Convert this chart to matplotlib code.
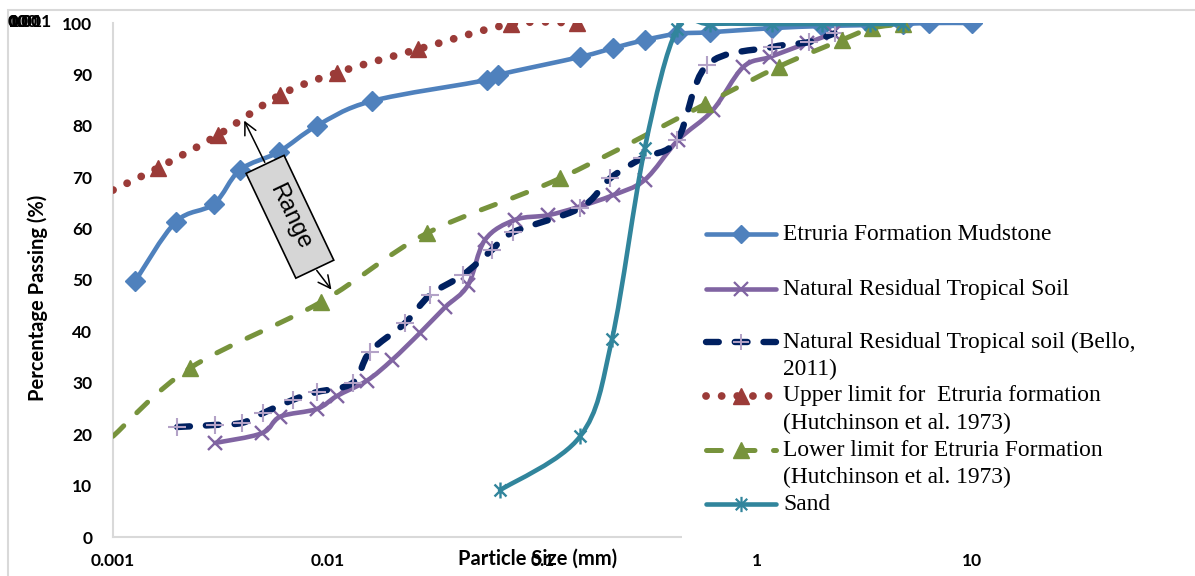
import numpy as np
import matplotlib
matplotlib.use("Agg")
import matplotlib.pyplot as plt
from matplotlib.path import Path
from matplotlib.patches import PathPatch, Rectangle
from matplotlib.lines import Line2D
from matplotlib.transforms import Affine2D, ScaledTranslation

# grading curves: particle size (mm) vs percentage passing
mud_x = [0.00127, 0.00196, 0.00295, 0.0039, 0.0059, 0.0089, 0.016, 0.055, 0.062,
         0.15, 0.213, 0.30, 0.424, 0.604, 1.17, 2.0, 3.35, 4.8, 6.3, 10]
mud_y = [49.8, 61.3, 64.8, 71.4, 74.9, 80.0, 84.8, 88.9, 89.9,
         93.4, 95.1, 96.7, 97.9, 98.2, 99.0, 99.4, 99.6, 99.8, 100, 100]

nat_x = [0.00299, 0.00494, 0.0060, 0.0089, 0.011, 0.0152, 0.0199, 0.0269, 0.0352,
         0.045, 0.054, 0.0745, 0.106, 0.147, 0.213, 0.30, 0.428, 0.62, 0.86,
         1.15, 1.71, 2.26]
nat_y = [18.3, 20.2, 23.4, 24.9, 27.4, 30.4, 34.4, 39.7, 44.7,
         49.0, 57.8, 61.7, 62.6, 64.2, 66.5, 69.5, 77.2, 83.0, 91.4,
         93.4, 96.1, 98.0]

bel_x = [0.00199, 0.00299, 0.00399, 0.0050, 0.0069, 0.0089, 0.0131, 0.0157, 0.0229,
         0.030, 0.0427, 0.058, 0.073, 0.150, 0.207, 0.291, 0.424, 0.584, 1.17,
         1.75, 2.3]
bel_y = [21.4, 21.8, 22.2, 24.1, 26.7, 28.2, 30.0, 36.0, 41.6,
         47.1, 51.0, 55.8, 59.3, 64.0, 69.8, 73.7, 77.2, 91.8, 95.3,
         96.3, 98.0]

up_x = [0.001, 0.00162, 0.00308, 0.0060, 0.011, 0.0264, 0.0714, 0.145]
up_y = [67.5, 71.8, 78.2, 86.0, 90.3, 94.9, 99.8, 100]

lo_x = [0.001, 0.00229, 0.0093, 0.029, 0.121, 0.572, 1.26, 2.48, 3.43, 4.8]
lo_y = [19.6, 32.9, 45.7, 59.1, 69.8, 84.2, 91.5, 96.7, 99.0, 99.8]

sand_x = [0.0635, 0.150, 0.211, 0.30, 0.424, 0.604, 1.17, 2.0, 3.35, 4.8]
sand_y = [9.1, 19.6, 38.5, 75.7, 98.8, 99.8, 99.8, 99.8, 99.8, 99.8]

x_ticks = [0.001, 0.01, 0.1, 1, 10]
x_tick_labels = ["0.001", "0.01", "0.1", "1", "10"]
y_ticks = list(range(0, 101, 10))

W, H = 1195, 576
blue, purple, navy, lilac = "#4f81bd", "#8064a2", "#002060", "#b3a2c7"
red, green, teal = "#9b3b38", "#77933c", "#31859c"

# asterisk marker: x with a vertical stroke
star = Path([(0, -1), (0, 1), (-0.75, -0.75), (0.75, 0.75), (-0.75, 0.75), (0.75, -0.75)],
            [Path.MOVETO, Path.LINETO] * 3)


def smooth_path(xs, ys):
    # bezier through the points, control points worked out in log-x space
    u = np.log10(xs) * 215.0
    v = np.asarray(ys, float) * 5.14
    p = np.column_stack([u, v])
    verts = [p[0]]
    codes = [Path.MOVETO]
    n = len(p)
    for i in range(n - 1):
        p0 = p[i - 1] if i > 0 else p[i]
        p3 = p[i + 2] if i + 2 < n else p[i + 1]
        c1 = p[i] + (p[i + 1] - p0) / 6.0
        c2 = p[i + 1] - (p3 - p[i]) / 6.0
        verts += [c1, c2, p[i + 1]]
        codes += [Path.CURVE4] * 3
    verts = np.array(verts)
    verts[:, 0] = 10 ** (verts[:, 0] / 215.0)
    verts[:, 1] = verts[:, 1] / 5.14
    return Path(verts, codes)


def curve(ax, xs, ys, color, lw, ls, z):
    patch = PathPatch(smooth_path(xs, ys), fill=False, edgecolor=color, lw=lw,
                      linestyle=ls, capstyle="round", joinstyle="round", zorder=z)
    ax.add_patch(patch)


fig = plt.figure(figsize=(W / 100, H / 100), dpi=100)
ax = fig.add_axes([113 / W, 1 - 537 / H, (1186.5 - 113) / W, (537 - 23) / H])
ax.set_xscale("log")
ax.set_xlim(0.001, 100)
ax.set_ylim(0, 100)

dash_navy = (0, (2.0, 2.5))
dash_green = (0, (3.0, 3.7))
dot_red = (0, (0.01, 2.0))

curve(ax, mud_x, mud_y, blue, 3.3, "-", 2)
ax.plot(mud_x, mud_y, ls="none", marker="D", ms=10, color=blue, zorder=2.1)

curve(ax, nat_x, nat_y, purple, 3.3, "-", 3)
ax.plot(nat_x, nat_y, ls="none", marker="x", ms=10.5, mew=1.7, color=purple, zorder=3.1)

curve(ax, bel_x, bel_y, navy, 4.6, dash_navy, 4)
ax.plot(bel_x, bel_y, ls="none", marker="+", ms=12.5, mew=1.5, color=lilac, zorder=4.1)

curve(ax, up_x, up_y, red, 5.6, dot_red, 5)
ax.plot(up_x[1:], up_y[1:], ls="none", marker="^", ms=12, color=red, zorder=5.1)

curve(ax, lo_x, lo_y, green, 3.6, dash_green, 6)
ax.plot(lo_x[1:], lo_y[1:], ls="none", marker="^", ms=12, color=green, zorder=6.1)

curve(ax, sand_x, sand_y, teal, 3.3, "-", 7)
ax.plot(sand_x, sand_y, ls="none", marker=star, ms=11.5, mew=1.7, mfc="none",
        mec=teal, zorder=7.1)

# axes styling
for side in ("top", "right"):
    ax.spines[side].set_visible(False)
for side in ("left", "bottom"):
    ax.spines[side].set_color("#d9d9d9")
    ax.spines[side].set_linewidth(1.5)
ax.set_xticks(x_ticks)
ax.set_xticklabels(x_tick_labels)
ax.xaxis.set_minor_locator(matplotlib.ticker.NullLocator())
ax.set_yticks(y_ticks)
ax.tick_params(axis="both", length=0, labelsize=12.5)
ax.tick_params(axis="x", pad=11.5)
ax.tick_params(axis="y", pad=15)
for lab in ax.get_xticklabels() + ax.get_yticklabels():
    lab.set_fontfamily("Lato")
    lab.set_fontweight("bold")

ax.set_xlabel("Particle Size (mm)", fontsize=14.5, fontweight="bold", family="Lato")
ax.xaxis.set_label_coords((538 - 113) / 1073.5, (537 - 549) / 514)
ax.set_ylabel("Percentage Passing (%)", fontsize=14.5, fontweight="bold", family="Lato")
ax.yaxis.set_label_coords((48 - 113) / 1073.5, (537 - 298) / 514)

# "Range" callout between the upper and lower limits
ang = -64.6
box_tf = Affine2D().rotate_deg(ang) + ScaledTranslation(0.00667, 62.3, ax.transData)
ax.add_patch(Rectangle((-58, -21), 116, 42, transform=box_tf, facecolor="#d6d6d6",
                       edgecolor="black", lw=1.2, zorder=9))
ax.text(0.00667, 62.3, "Range", rotation=ang, rotation_mode="anchor", ha="center",
        va="center", fontsize=17, family="Liberation Sans", zorder=10)
arrow = dict(arrowstyle="->", color="black", lw=1.1, mutation_scale=22)
ax.annotate("", xy=(0.00403, 81.5), xytext=(0.00516, 72.4), arrowprops=arrow, zorder=10)
ax.annotate("", xy=(0.0106, 47.7), xytext=(0.00873, 52.3), arrowprops=arrow, zorder=10)


def fx(x):
    return x / W


def fy(y):
    return 1 - y / H


# chart border and overlapped labels in the corner
fig.add_artist(Rectangle((fx(8), fy(600)), fx(1200), fy(10) - fy(600), fill=False,
                         edgecolor="#d9d9d9", lw=1.5, transform=fig.transFigure))
for i, s in enumerate(["0.001", "0.01", "100", "10", "1"]):
    fig.text(fx(8 + i % 2), fy(22), s, fontsize=12.5, fontweight="bold", family="Lato",
             ha="left", va="center")

# legend
fig.add_artist(Rectangle((fx(682), fy(546)), fx(510), fy(200) - fy(546), facecolor="white",
                         edgecolor="none", transform=fig.transFigure, zorder=20))
entries = [
    (["Etruria Formation Mudstone"], 234,
     dict(color=blue, lw=3.3, marker="D", ms=9)),
    (["Natural Residual Tropical Soil"], 289,
     dict(color=purple, lw=3.3, marker="x", ms=10, mew=1.6)),
    (["Natural Residual Tropical soil (Bello,", "2011)"], 342,
     dict(color=navy, lw=4.6, ls=dash_navy, marker="+", ms=12, mew=1.4, mec=lilac)),
    (["Upper limit for  Etruria formation", "(Hutchinson et al. 1973)"], 396,
     dict(color=red, lw=5.6, ls=dot_red, marker="^", ms=11)),
    (["Lower limit for Etruria Formation", "(Hutchinson et al. 1973)"], 450,
     dict(color=green, lw=3.6, ls=dash_green, marker="^", ms=11)),
    (["Sand"], 504,
     dict(color=teal, lw=3.3, marker=star, ms=11, mew=1.6, mfc="none", mec=teal)),
]
mark_keys = ("marker", "ms", "mew", "mec", "mfc")
for lines, yy, style in entries:
    seg = Line2D([fx(706), fx(776)], [fy(yy), fy(yy)], transform=fig.transFigure,
                 solid_capstyle="round", dash_capstyle="round", zorder=21,
                 **{k: v for k, v in style.items() if k not in mark_keys})
    fig.add_artist(seg)
    mk = Line2D([fx(741)], [fy(yy)], transform=fig.transFigure, ls="none", zorder=22,
                color=style["color"], marker=style["marker"], ms=style["ms"],
                mew=style.get("mew", 1.0), mec=style.get("mec", style["color"]),
                mfc=style.get("mfc", style["color"]))
    fig.add_artist(mk)
    for i, t in enumerate(lines):
        fig.text(fx(783), fy(yy + 27 * i), t, fontsize=16.9, family="Liberation Serif",
                 ha="left", va="center", zorder=23)

fig.savefig("out.png", dpi=100)
